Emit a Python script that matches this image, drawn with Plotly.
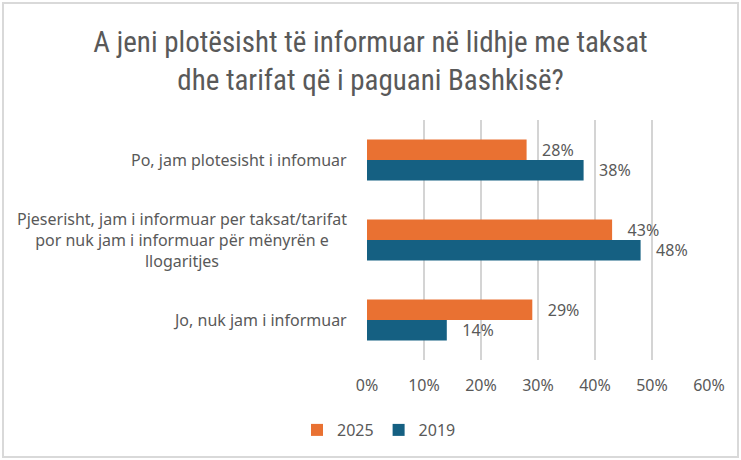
import plotly.graph_objects as go

categories = [
    "Po, jam plotesisht i infomuar",
    "Pjeserisht, jam i informuar per taksat/tarifat<br>por nuk jam i informuar për mënyrën e<br>llogaritjes",
    "Jo, nuk jam i informuar",
]
years = ["2025", "2019"]
values_2025 = [0.28, 0.43, 0.29]
values_2019 = [0.38, 0.48, 0.14]
colors = {"2025": "#E97132", "2019": "#156082"}

title_text = "A jeni plotësisht të informuar në lidhje me taksat<br>dhe tarifat që i paguani Bashkisë?"
grey = "#595959"
font_main = "Noto Sans, Lato, sans-serif"
nbsp = "\u00a0"

fig = go.Figure()
for year, vals in zip(years, [values_2025, values_2019]):
    fig.add_trace(go.Bar(
        y=list(range(len(categories))), x=vals, orientation="h", name=year,
        marker=dict(color=colors[year], line=dict(width=0)),
        text=[nbsp * 3 + f"{v:.0%}" for v in vals], textposition="outside",
        constraintext="none",
        textfont=dict(size=16, color=grey, family=font_main),
        cliponaxis=False,
    ))

# category labels, centred lines like the original
for i, cat in enumerate(categories):
    fig.add_annotation(
        x=0, xref="paper", y=i, yref="y", text=cat, showarrow=False,
        xanchor="right", yanchor="middle", align="center", xshift=-18,
        font=dict(size=16, color=grey, family=font_main),
    )

# light frame around the whole chart
fig.add_shape(type="rect", xref="paper", yref="paper",
              x0=(3 - 367) / 342, x1=(738 - 367) / 342,
              y0=(360 - 457) / 240, y1=(360 - 3) / 240,
              line=dict(color="#d9d9d9", width=2), layer="below")

fig.update_layout(
    width=741, height=460,
    margin=dict(l=367, r=32, t=120, b=100),
    paper_bgcolor="white", plot_bgcolor="white",
    barmode="group", bargap=0.49, bargroupgap=0,
    title=dict(text=title_text, x=0.5, xref="container", xanchor="center",
               y=1 - 52 / 460, yanchor="middle",
               font=dict(size=29, color=grey,
                         family="Liberation Sans Narrow, Roboto Condensed, Arial Narrow, sans-serif")),
    xaxis=dict(range=[0, 0.6], dtick=0.1, tickformat=".0%", showgrid=True,
               gridcolor="#d4d4d4", gridwidth=1.5, zeroline=False, showline=False,
               ticks="", tickfont=dict(size=16, color=grey, family=font_main),
               ticklabelstandoff=14, fixedrange=True),
    yaxis=dict(range=[2.5, -0.5], showticklabels=False, showgrid=False,
               zeroline=False, showline=False, ticks="", fixedrange=True),
    legend=dict(orientation="h", x=(297 - 367) / 342, xanchor="left",
                y=(360 - 430) / 240, yanchor="middle",
                font=dict(size=16, color=grey, family=font_main),
                itemwidth=30, traceorder="normal"),
    showlegend=True,
)

fig.write_html("out.html", config={"displayModeBar": False},
               post_script="document.body.style.margin='0';")
